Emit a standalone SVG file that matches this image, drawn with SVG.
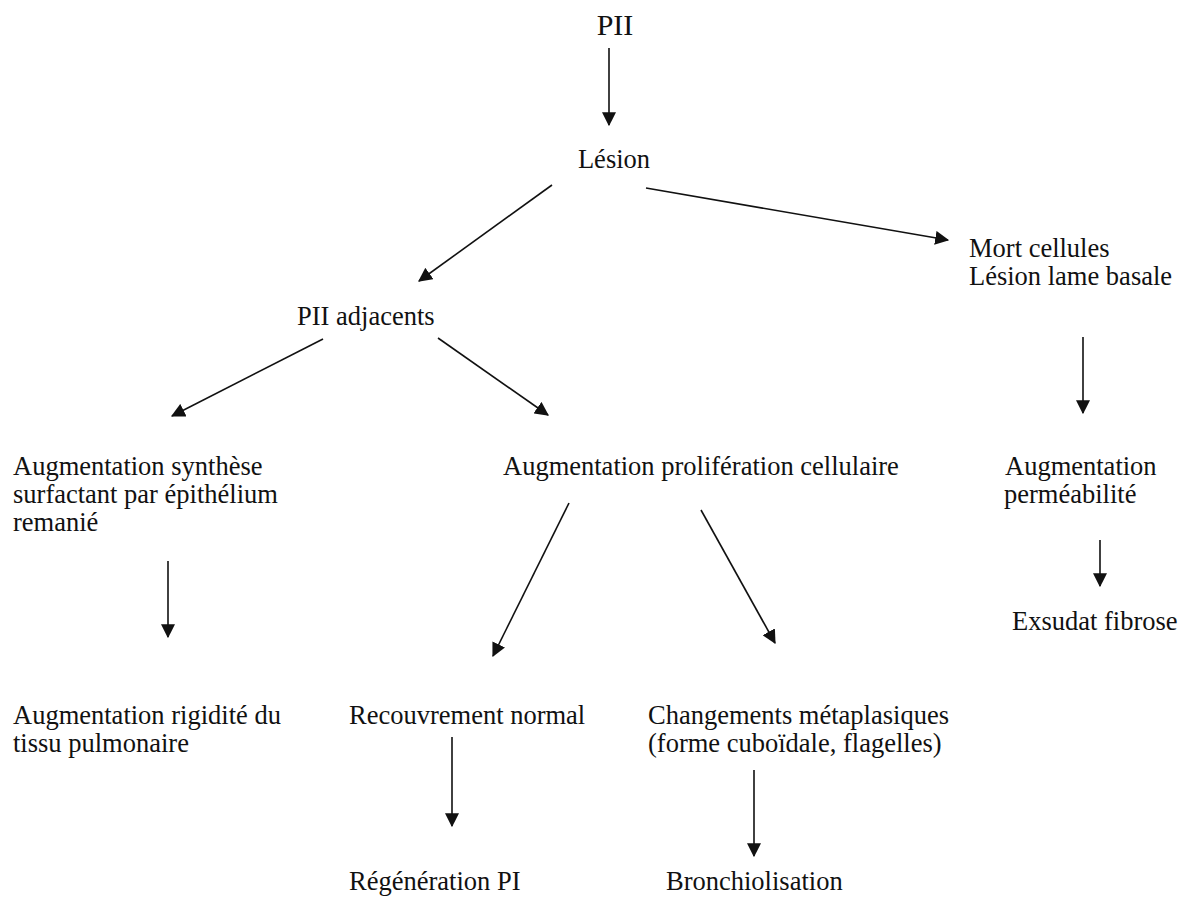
<svg xmlns="http://www.w3.org/2000/svg" width="1187" height="912" viewBox="0 0 1187 912">
<style>
text{font-family:"Liberation Serif","Times New Roman",serif;font-size:26.5px;fill:#111}
.big{font-size:30px}
.c{stroke:#111;stroke-width:1.6;fill:none;marker-end:url(#ah)}
</style>
<defs>
<marker id="ah" markerUnits="userSpaceOnUse" markerWidth="14" markerHeight="14" viewBox="0 0 12 12" refX="11" refY="6" orient="auto">
<path d="M0,0 L12,6 L0,12 z" fill="#111"/>
</marker>
</defs>
<rect width="1187" height="912" fill="#fff"/>
<g id="connectors">
<line class="c" x1="609" y1="48" x2="609" y2="125"/>
<line class="c" x1="552" y1="185" x2="419" y2="281"/>
<line class="c" x1="646" y1="188" x2="948" y2="240"/>
<line class="c" x1="1083" y1="337" x2="1083" y2="413"/>
<line class="c" x1="323" y1="339" x2="172" y2="416"/>
<line class="c" x1="438" y1="338" x2="548" y2="415"/>
<line class="c" x1="1100" y1="540" x2="1100" y2="586"/>
<line class="c" x1="168" y1="561" x2="168" y2="637"/>
<line class="c" x1="569" y1="503" x2="493" y2="656"/>
<line class="c" x1="701" y1="510" x2="775" y2="643"/>
<line class="c" x1="452" y1="737" x2="452" y2="826"/>
<line class="c" x1="754" y1="770" x2="754" y2="856"/>
</g>
<g id="n-pii"><text class="big" x="615" y="35" text-anchor="middle">PII</text></g>
<g id="n-lesion"><text x="614" y="168" text-anchor="middle">Lésion</text></g>
<g id="n-mort"><text x="969" y="257">Mort cellules</text><text x="969" y="285">Lésion lame basale</text></g>
<g id="n-adj"><text x="297" y="325">PII adjacents</text></g>
<g id="n-synth"><text x="13" y="475">Augmentation synthèse</text><text x="13" y="503">surfactant par épithélium</text><text x="13" y="531">remanié</text></g>
<g id="n-prolif"><text x="503" y="475">Augmentation prolifération cellulaire</text></g>
<g id="n-perm"><text x="1005" y="475">Augmentation</text><text x="1004" y="503">perméabilité</text></g>
<g id="n-exsudat"><text x="1012" y="630">Exsudat fibrose</text></g>
<g id="n-rigid"><text x="13" y="724">Augmentation rigidité du</text><text x="13" y="752">tissu pulmonaire</text></g>
<g id="n-recouv"><text x="349" y="724">Recouvrement normal</text></g>
<g id="n-chang"><text x="648" y="724">Changements métaplasiques</text><text x="648" y="752">(forme cuboïdale, flagelles)</text></g>
<g id="n-regen"><text x="349" y="890">Régénération PI</text></g>
<g id="n-bronch"><text x="666" y="890">Bronchiolisation</text></g>
</svg>
